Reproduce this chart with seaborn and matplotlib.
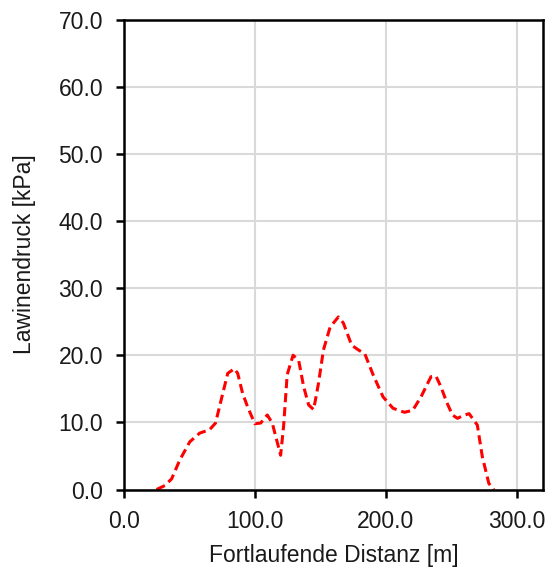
import matplotlib
matplotlib.use("Agg")
import matplotlib.pyplot as plt
import seaborn as sns
import pandas as pd
from matplotlib.ticker import FormatStrFormatter

distance = [25.0, 31.4, 36.5, 42.7, 50.3, 57.9, 65.4, 70.0, 74.5, 79.3, 84.4, 86.9,
            90.7, 94.5, 100.0, 104.5, 109.5, 113.3, 116.5, 119.7, 122.0, 124.7, 129.2,
            133.5, 137.3, 141.1, 144.9, 148.6, 152.4, 157.5, 163.8, 167.6, 173.9, 179.0,
            184.0, 190.3, 197.9, 205.5, 214.3, 220.6, 226.9, 234.5, 238.3, 242.1, 246.5,
            250.9, 254.7, 259.0, 263.6, 269.9, 273.7, 278.7, 282.5]
pressure = [0.0, 0.6, 1.6, 4.4, 7.1, 8.4, 8.9, 9.9, 13.5, 17.3, 18.0, 17.3,
            14.3, 12.3, 9.8, 9.9, 11.1, 9.9, 7.5, 5.1, 9.5, 17.1, 20.0,
            19.2, 15.3, 12.6, 11.9, 15.8, 20.8, 24.2, 25.7, 24.8, 21.5, 20.8,
            20.2, 17.1, 13.8, 12.1, 11.5, 11.8, 13.8, 16.8, 16.9, 15.3, 13.0,
            11.1, 10.6, 11.0, 11.3, 9.6, 4.9, 0.9, 0.0]

x_ticks = [0.0, 100.0, 200.0, 300.0]
y_ticks = [0.0, 10.0, 20.0, 30.0, 40.0, 50.0, 60.0, 70.0]

sns.set_style("whitegrid")
plt.rcParams['font.family'] = ['Liberation Sans', 'DejaVu Sans']

df = pd.DataFrame({"Distanz": distance, "Druck": pressure})

fig = plt.figure(figsize=(5.58, 5.69), dpi=100)
ax = fig.add_axes([0.222, 0.1397, 0.751, 0.826])

sns.lineplot(data=df, x="Distanz", y="Druck", ax=ax, color="#ff0000",
             linewidth=2.2, linestyle=(0, (3, 1.6)), sort=False)

ax.set_xlim(0, 320)
ax.set_ylim(0, 70)
ax.set_xticks(x_ticks)
ax.set_yticks(y_ticks)
ax.xaxis.set_major_formatter(FormatStrFormatter('%.1f'))
ax.yaxis.set_major_formatter(FormatStrFormatter('%.1f'))

ax.grid(True, color="#d9d9d9", linewidth=1.5)
for s in ax.spines.values():
    s.set_color("black")
    s.set_linewidth(1.8)

ax.tick_params(axis='both', which='major', direction='out', length=6, width=1.8,
               color='black', labelsize=16.5, labelcolor='#1a1a1a', pad=9,
               left=True, bottom=True)

ax.set_xlabel("Fortlaufende Distanz [m]", fontsize=16.5, color='#1a1a1a', labelpad=8)
ax.set_ylabel("Lawinendruck [kPa]", fontsize=16.5, color='#1a1a1a', labelpad=16)

fig.savefig("out.png", dpi=100)
